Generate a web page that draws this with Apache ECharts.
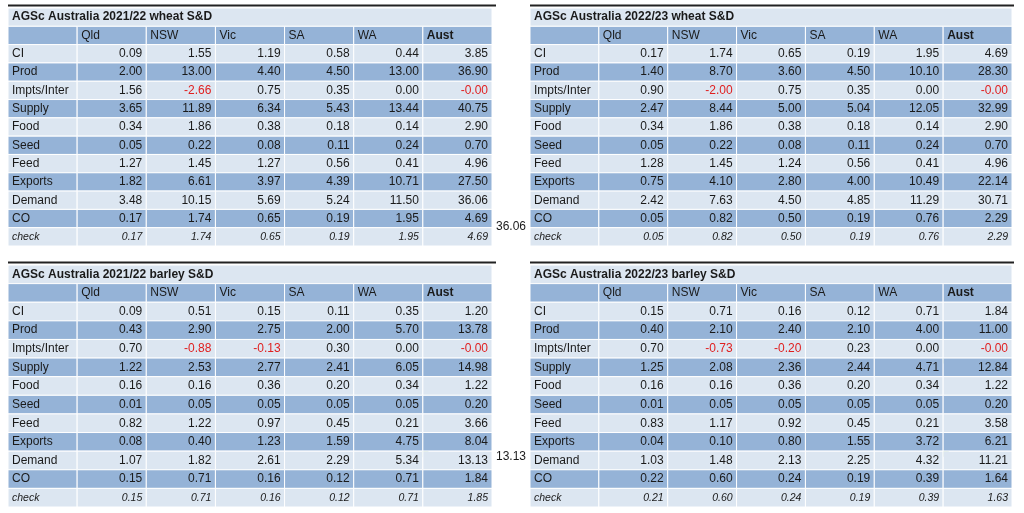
<!DOCTYPE html>
<html>
<head>
<meta charset="utf-8">
<script src="https://cdn.jsdelivr.net/npm/echarts@6/dist/echarts.min.js"></script>
<style>html,body{margin:0;background:#fff}#main{width:1024px;height:513px}</style>
</head>
<body>
<div id="main"></div>
<script>
// column and row labels
const columns = ['', 'Qld', 'NSW', 'Vic', 'SA', 'WA', 'Aust'];
const rowNames = ['CI', 'Prod', 'Impts/Inter', 'Supply', 'Food', 'Seed', 'Feed', 'Exports', 'Demand', 'CO', 'check'];

const wheat2122Title = 'AGSc Australia 2021/22 wheat S&D';
const wheat2122 = [
    ['0.09', '1.55', '1.19', '0.58', '0.44', '3.85'],
    ['2.00', '13.00', '4.40', '4.50', '13.00', '36.90'],
    ['1.56', '-2.66', '0.75', '0.35', '0.00', '-0.00'],
    ['3.65', '11.89', '6.34', '5.43', '13.44', '40.75'],
    ['0.34', '1.86', '0.38', '0.18', '0.14', '2.90'],
    ['0.05', '0.22', '0.08', '0.11', '0.24', '0.70'],
    ['1.27', '1.45', '1.27', '0.56', '0.41', '4.96'],
    ['1.82', '6.61', '3.97', '4.39', '10.71', '27.50'],
    ['3.48', '10.15', '5.69', '5.24', '11.50', '36.06'],
    ['0.17', '1.74', '0.65', '0.19', '1.95', '4.69'],
    ['0.17', '1.74', '0.65', '0.19', '1.95', '4.69']
];

const wheat2223Title = 'AGSc Australia 2022/23 wheat S&D';
const wheat2223 = [
    ['0.17', '1.74', '0.65', '0.19', '1.95', '4.69'],
    ['1.40', '8.70', '3.60', '4.50', '10.10', '28.30'],
    ['0.90', '-2.00', '0.75', '0.35', '0.00', '-0.00'],
    ['2.47', '8.44', '5.00', '5.04', '12.05', '32.99'],
    ['0.34', '1.86', '0.38', '0.18', '0.14', '2.90'],
    ['0.05', '0.22', '0.08', '0.11', '0.24', '0.70'],
    ['1.28', '1.45', '1.24', '0.56', '0.41', '4.96'],
    ['0.75', '4.10', '2.80', '4.00', '10.49', '22.14'],
    ['2.42', '7.63', '4.50', '4.85', '11.29', '30.71'],
    ['0.05', '0.82', '0.50', '0.19', '0.76', '2.29'],
    ['0.05', '0.82', '0.50', '0.19', '0.76', '2.29']
];

const barley2122Title = 'AGSc Australia 2021/22 barley S&D';
const barley2122 = [
    ['0.09', '0.51', '0.15', '0.11', '0.35', '1.20'],
    ['0.43', '2.90', '2.75', '2.00', '5.70', '13.78'],
    ['0.70', '-0.88', '-0.13', '0.30', '0.00', '-0.00'],
    ['1.22', '2.53', '2.77', '2.41', '6.05', '14.98'],
    ['0.16', '0.16', '0.36', '0.20', '0.34', '1.22'],
    ['0.01', '0.05', '0.05', '0.05', '0.05', '0.20'],
    ['0.82', '1.22', '0.97', '0.45', '0.21', '3.66'],
    ['0.08', '0.40', '1.23', '1.59', '4.75', '8.04'],
    ['1.07', '1.82', '2.61', '2.29', '5.34', '13.13'],
    ['0.15', '0.71', '0.16', '0.12', '0.71', '1.84'],
    ['0.15', '0.71', '0.16', '0.12', '0.71', '1.85']
];

const barley2223Title = 'AGSc Australia 2022/23 barley S&D';
const barley2223 = [
    ['0.15', '0.71', '0.16', '0.12', '0.71', '1.84'],
    ['0.40', '2.10', '2.40', '2.10', '4.00', '11.00'],
    ['0.70', '-0.73', '-0.20', '0.23', '0.00', '-0.00'],
    ['1.25', '2.08', '2.36', '2.44', '4.71', '12.84'],
    ['0.16', '0.16', '0.36', '0.20', '0.34', '1.22'],
    ['0.01', '0.05', '0.05', '0.05', '0.05', '0.20'],
    ['0.83', '1.17', '0.92', '0.45', '0.21', '3.58'],
    ['0.04', '0.10', '0.80', '1.55', '3.72', '6.21'],
    ['1.03', '1.48', '2.13', '2.25', '4.32', '11.21'],
    ['0.22', '0.60', '0.24', '0.19', '0.39', '1.64'],
    ['0.21', '0.60', '0.24', '0.19', '0.39', '1.63']
];

// cells with the little green comment marker [row, col]
const marks2122Barley = [[8, 5]];
const marks2223Barley = [[3, 5], [8, 5]];

const LIGHT = '#dce6f1';
const DARK = '#95b3d7';
const FONT = 'Liberation Sans';

function buildData (title, values, marks) {
    let data = [];
    data.push({ value: [0, 0], kind: 'title', text: title });
    columns.forEach((c, i) => data.push({ value: [i, 1], kind: 'header', text: c }));
    rowNames.forEach((name, r) => {
        data.push({ value: [0, r + 2], kind: 'label', text: name, row: r });
        values[r].forEach((v, c) => {
            let mark = marks.some(m => m[0] === r && m[1] === c + 1);
            data.push({ value: [c + 1, r + 2], kind: 'num', text: v, row: r, mark: mark });
        });
    });
    return data;
}

function renderItem (params, api) {
    let item = params.context.items[params.dataIndex];
    let p = api.coord([api.value(0), api.value(1)]);
    let s = api.size([1, 1]);
    let x = p[0] - s[0] / 2, y = p[1] - s[1] / 2, w = s[0], h = s[1];
    let fill = LIGHT, align = 'left', weight = 'normal', style = 'normal', color = '#1a1a1a';
    if (item.kind === 'title') { w = s[0] * 7; weight = 'bold'; }
    if (item.kind === 'header') { fill = DARK; if (item.text === 'Aust') weight = 'bold'; }
    if (item.kind === 'label' || item.kind === 'num') {
        fill = item.row % 2 === 1 ? DARK : LIGHT;
        if (item.row === 10) style = 'italic';
    }
    if (item.kind === 'num') {
        align = 'right';
        if (item.text.charAt(0) === '-') color = '#e02020';
    }
    let children = [{
        type: 'rect',
        shape: { x: x, y: y, width: w, height: h },
        style: { fill: fill, stroke: '#ffffff', lineWidth: 1 }
    }, {
        type: 'text',
        style: {
            x: align === 'right' ? x + w - 4 : x + 4,
            y: y + h / 2,
            text: item.text,
            align: align,
            verticalAlign: 'middle',
            fill: color,
            fontFamily: FONT,
            fontSize: item.row === 10 ? 10.5 : 12,
            fontWeight: weight,
            fontStyle: style
        }
    }];
    if (item.mark) {
        // comment marker in the top-right corner of the cell
        children.push({
            type: 'polygon',
            shape: { points: [[x + w, y], [x + w + 6, y], [x + w, y + 6]] },
            style: { fill: '#2e8b2e' }
        });
    }
    return { type: 'group', children: children };
}

const tables = [
    { title: wheat2122Title, values: wheat2122, marks: [], left: 8, top: 8, width: 484, height: 238 },
    { title: wheat2223Title, values: wheat2223, marks: [], left: 530, top: 8, width: 482, height: 238 },
    { title: barley2122Title, values: barley2122, marks: marks2122Barley, left: 8, top: 265, width: 484, height: 242 },
    { title: barley2223Title, values: barley2223, marks: marks2223Barley, left: 530, top: 265, width: 482, height: 242 }
];

const rowsAll = ['t', 'h'].concat(rowNames);
let option = {
    animation: false,
    grid: [], xAxis: [], yAxis: [], series: [],
    graphic: [
        { type: 'line', shape: { x1: 8, y1: 5.5, x2: 496, y2: 5.5 }, style: { stroke: '#222', lineWidth: 2 } },
        { type: 'line', shape: { x1: 530, y1: 5.5, x2: 1014, y2: 5.5 }, style: { stroke: '#222', lineWidth: 2 } },
        { type: 'line', shape: { x1: 8, y1: 262.5, x2: 496, y2: 262.5 }, style: { stroke: '#222', lineWidth: 2 } },
        { type: 'line', shape: { x1: 530, y1: 262.5, x2: 1014, y2: 262.5 }, style: { stroke: '#222', lineWidth: 2 } },
        { type: 'text', left: 496, top: 221, style: { text: wheat2122[8][5], fontFamily: FONT, fontSize: 12, fill: '#1a1a1a' } },
        { type: 'text', left: 496, top: 451, style: { text: barley2122[8][5], fontFamily: FONT, fontSize: 12, fill: '#1a1a1a' } }
    ]
};

tables.forEach((t, i) => {
    option.grid.push({ left: t.left, top: t.top, width: t.width, height: t.height });
    option.xAxis.push({ type: 'category', data: columns.map((c, k) => k), gridIndex: i, show: false });
    option.yAxis.push({ type: 'category', data: rowsAll, inverse: true, gridIndex: i, show: false });
    let data = buildData(t.title, t.values, t.marks);
    option.series.push({
        type: 'custom',
        xAxisIndex: i,
        yAxisIndex: i,
        data: data,
        renderItem: function (params, api) {
            params.context.items = data;
            return renderItem(params, api);
        }
    });
});

const chart = echarts.init(document.getElementById('main'), null, { renderer: 'canvas' });
chart.setOption(option);
</script>
</body>
</html>
